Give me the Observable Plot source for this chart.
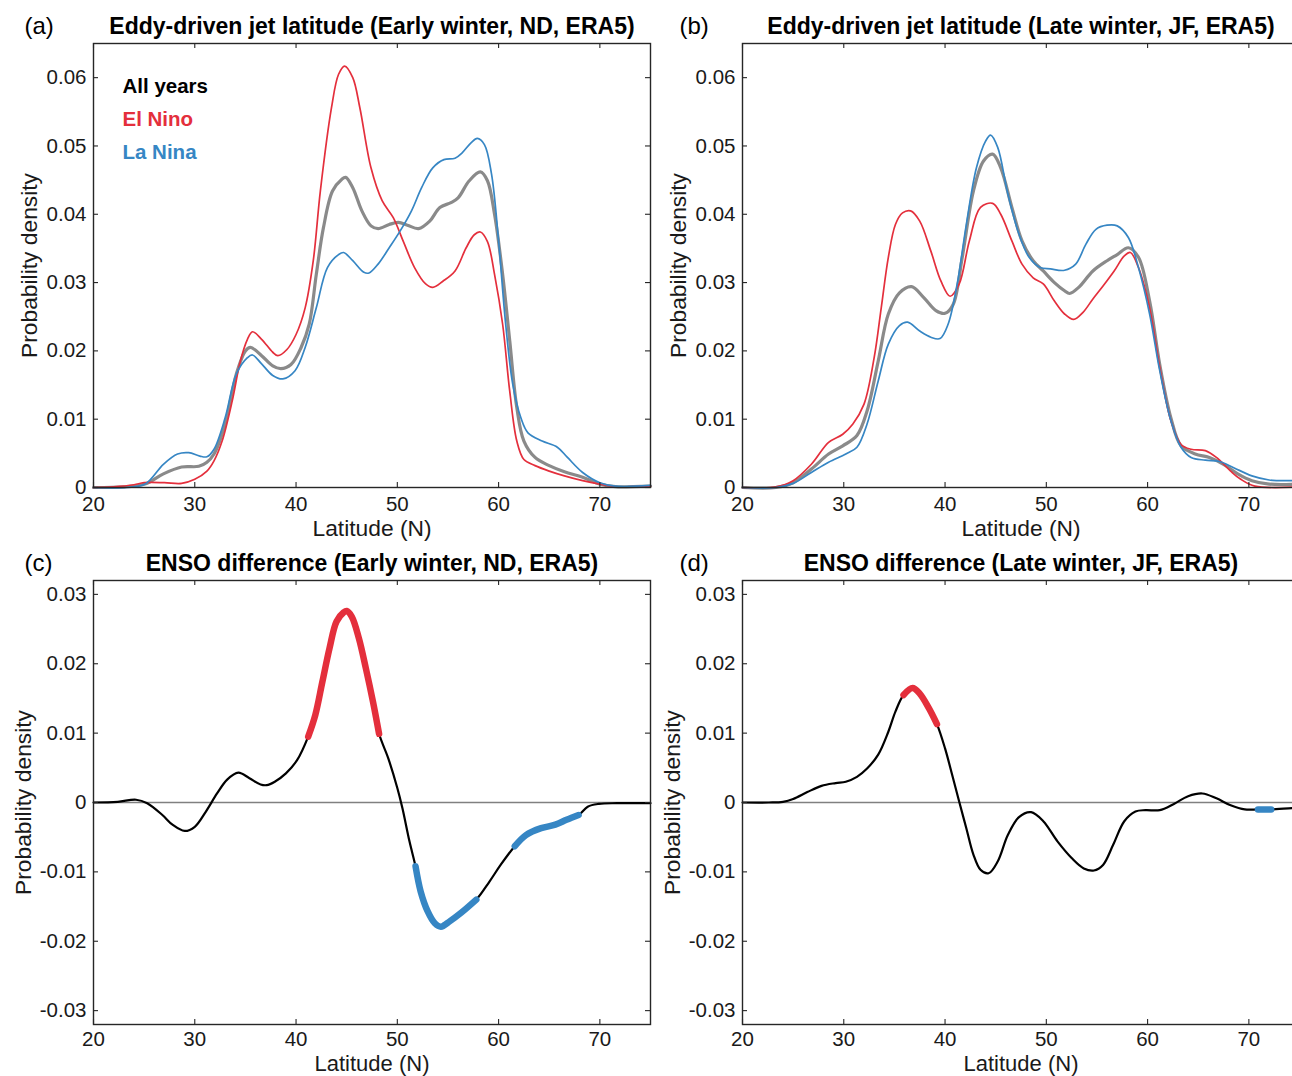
<!DOCTYPE html>
<html><head><meta charset="utf-8">
<script src="https://cdn.jsdelivr.net/npm/d3@7"></script>
<script src="https://cdn.jsdelivr.net/npm/@observablehq/plot@0.6"></script>
<style>
html,body{margin:0;padding:0;background:#fff;overflow:hidden;width:1292px;height:1076px;}
#fig{position:relative;width:1292px;height:1076px;overflow:hidden;background:#fff;}
.panel{position:absolute;}
</style></head><body><div id="fig"></div>
<script>
// ---------------- DATA ----------------
const xTicks = [20, 30, 40, 50, 60, 70];
const yTicksPdf = [0, 0.01, 0.02, 0.03, 0.04, 0.05, 0.06];
const yTicksDiff = [-0.03, -0.02, -0.01, 0, 0.01, 0.02, 0.03];
const xLabel = "Latitude (N)";
const yLabel = "Probability density";
const titles = [
  "Eddy-driven jet latitude (Early winter, ND, ERA5)",
  "Eddy-driven jet latitude (Late winter, JF, ERA5)",
  "ENSO difference (Early winter, ND, ERA5)",
  "ENSO difference (Late winter, JF, ERA5)"
];
const letters = ["(a)", "(b)", "(c)", "(d)"];
const legendLabels = ["All years", "El Nino", "La Nina"];

// Panel (a): early winter ND  [latitude, density]
const ndAll = [[20,0],[23,0.0001],[25.1,0.0005],[26.9,0.002],[28.7,0.003],[30.4,0.0031],[31.2,0.0037],[31.9,0.0049],[33.0,0.0093],[34.1,0.0166],[35.0,0.020],[35.5,0.0205],[36.6,0.0193],[37.7,0.0178],[38.5,0.0174],[39.5,0.018],[40.5,0.0205],[41.3,0.0239],[42.0,0.0312],[42.7,0.038],[43.6,0.0434],[44.5,0.0451],[44.9,0.0454],[45.6,0.0439],[46.5,0.0405],[47.4,0.0383],[48.1,0.0379],[49.2,0.0385],[50.1,0.0388],[51.0,0.0384],[52.1,0.0379],[53.2,0.039],[54.2,0.041],[55.3,0.0417],[56.0,0.0424],[57.1,0.0449],[58.2,0.0462],[58.9,0.0449],[59.6,0.040],[60.4,0.0312],[61.1,0.0215],[61.8,0.0117],[62.5,0.0068],[63.6,0.0044],[65,0.0032],[66.5,0.0023],[68.3,0.0015],[70,0.0005],[71.8,0.0001],[75,0.0002]];
const ndNino = [[20,0],[22,0.0001],[24,0.0004],[25,0.0007],[27,0.0007],[28.7,0.0006],[30,0.0012],[31.2,0.0024],[31.9,0.0039],[32.7,0.0068],[33.7,0.0127],[34.5,0.0185],[35.2,0.0217],[35.7,0.0228],[36.6,0.0217],[37.7,0.0198],[38.2,0.0193],[39.1,0.0202],[40.0,0.0224],[40.9,0.0263],[41.7,0.0332],[42.4,0.0434],[43.5,0.0556],[44.2,0.0605],[44.8,0.0617],[45.6,0.060],[46.3,0.0556],[47.4,0.0468],[48.5,0.042],[49.6,0.0395],[50.6,0.036],[51.7,0.0322],[52.8,0.0298],[53.5,0.0293],[54.5,0.0302],[55.7,0.0317],[56.8,0.0351],[57.6,0.037],[58.2,0.0374],[58.9,0.036],[59.6,0.0312],[60.4,0.0239],[61.1,0.0141],[61.8,0.0068],[62.5,0.0041],[63.6,0.0032],[65,0.0024],[66.5,0.0017],[68.3,0.001],[70,0.0005],[71.8,0.0001],[75,0.0002]];
const ndNina = [[20,0],[23.3,0],[25.1,0.0005],[26.9,0.0034],[28.3,0.0049],[29.4,0.0051],[30.5,0.0046],[31.2,0.0045],[31.9,0.0056],[33.0,0.0102],[34.1,0.0166],[35.2,0.019],[35.7,0.0194],[36.6,0.0181],[37.7,0.0164],[38.7,0.0159],[39.9,0.0171],[40.9,0.0205],[42.0,0.0263],[43.1,0.0322],[44.2,0.0341],[44.7,0.0344],[45.6,0.0332],[46.7,0.0315],[47.2,0.0314],[48.1,0.0327],[49.2,0.0351],[50.3,0.0376],[51.4,0.0405],[52.4,0.0439],[53.5,0.0468],[54.6,0.048],[55.7,0.0482],[56.4,0.049],[57.3,0.0505],[57.9,0.0511],[58.6,0.0502],[59.3,0.0459],[60.0,0.0361],[60.7,0.0239],[61.4,0.0151],[62.2,0.0102],[62.9,0.008],[64.3,0.0068],[65.8,0.0059],[66.8,0.0044],[68.3,0.0022],[70,0.0007],[71.5,0.0002],[75,0.0003]];

// Panel (b): late winter JF
const jfAll = [[20,0],[23.3,0],[25,0.0007],[26.8,0.0027],[28.5,0.0049],[29.9,0.0061],[31.3,0.0076],[32.3,0.0112],[33.4,0.0185],[34.4,0.0254],[35.5,0.0285],[36.7,0.0294],[37.9,0.0278],[39.1,0.0259],[40.0,0.0255],[40.8,0.0268],[41.7,0.0337],[42.8,0.0434],[43.8,0.0478],[44.7,0.0488],[45.5,0.0468],[46.6,0.041],[47.6,0.0361],[48.7,0.0332],[49.7,0.0317],[50.8,0.030],[51.8,0.0288],[52.3,0.0284],[53.2,0.0293],[54.6,0.0317],[56.0,0.0332],[57.0,0.0341],[58.1,0.0351],[59.1,0.0337],[60.2,0.0273],[61.2,0.018],[62.3,0.0102],[63.3,0.0061],[64.7,0.0049],[66.1,0.0044],[67.5,0.0034],[68.9,0.002],[70.3,0.001],[72,0.0005],[75,0.0005]];
const jfNino = [[20,0],[23.3,0.0001],[25,0.001],[26.8,0.0034],[28.5,0.0066],[29.9,0.0078],[30.9,0.0093],[32.0,0.0122],[33.0,0.019],[33.7,0.0263],[34.4,0.0337],[35.1,0.0385],[35.8,0.0402],[36.6,0.0405],[37.5,0.039],[38.6,0.0346],[39.6,0.0302],[40.5,0.028],[41.4,0.0298],[42.4,0.0361],[43.5,0.041],[44.7,0.0416],[45.5,0.040],[46.6,0.0361],[47.6,0.0327],[48.7,0.0307],[49.7,0.0298],[50.8,0.0273],[51.8,0.0254],[52.7,0.0246],[53.6,0.0256],[54.6,0.0276],[55.6,0.0295],[56.7,0.0317],[57.7,0.0339],[58.3,0.0344],[59.1,0.0322],[60.2,0.0263],[61.2,0.0176],[62.3,0.0098],[63.3,0.0063],[64.3,0.0056],[65.7,0.0054],[66.8,0.0044],[68.2,0.0024],[69.2,0.0012],[70.6,0.0002],[75,0.0001]];
const jfNina = [[20,0],[23.3,0],[25,0.0006],[26.8,0.0022],[28.5,0.0037],[30.2,0.0049],[31.3,0.0059],[32.3,0.0093],[33.4,0.0156],[34.4,0.021],[35.5,0.0237],[36.3,0.0242],[37.5,0.0229],[38.6,0.022],[39.5,0.0218],[40.3,0.0239],[41.2,0.0298],[42.1,0.0385],[43.1,0.0468],[44.0,0.0507],[44.5,0.0516],[45.2,0.0498],[46.2,0.043],[47.3,0.0371],[48.3,0.0337],[49.4,0.0322],[50.4,0.032],[51.8,0.0318],[52.9,0.0327],[53.9,0.0356],[54.9,0.0378],[56.0,0.0384],[57.0,0.0383],[58.1,0.0366],[59.1,0.0322],[60.2,0.0254],[61.2,0.0171],[62.3,0.0098],[63.3,0.0059],[64.3,0.0044],[65.7,0.004],[67.1,0.0038],[68.5,0.0029],[70.3,0.0017],[72,0.0011],[74.1,0.001],[75,0.001]];

// Panels (c),(d): El Nino minus La Nina difference
const ndDiff = [[20,0],[22.4,0.0001],[24.2,0.0004],[25.3,-0.0001],[26.8,-0.0018],[27.8,-0.0032],[29.0,-0.0041],[30,-0.0035],[31.1,-0.0013],[32.2,0.0013],[33.2,0.0033],[34.3,0.0043],[35.4,0.0035],[36.5,0.0026],[37.1,0.0025],[37.9,0.003],[39.0,0.0042],[40.1,0.0061],[41.2,0.0095],[41.9,0.0126],[42.6,0.0174],[43.3,0.0222],[44.0,0.0261],[44.7,0.0274],[45.0,0.0276],[45.5,0.0268],[46.2,0.0237],[46.9,0.0193],[47.6,0.0145],[48.2,0.0099],[49.1,0.0064],[50.0,0.0021],[50.5,-0.0008],[51.2,-0.0056],[51.8,-0.0092],[52.3,-0.0128],[53.0,-0.0157],[53.7,-0.0174],[54.3,-0.0179],[55.2,-0.0171],[56.3,-0.0159],[57.8,-0.014],[59.1,-0.0114],[60.2,-0.009],[61.6,-0.0063],[62.7,-0.0047],[64.2,-0.0037],[65.6,-0.0032],[66.7,-0.0025],[67.9,-0.0018],[68.8,-0.0006],[69.9,-0.0002],[71.7,-0.0001],[75,-0.0001]];
const jfDiff = [[20,0],[22.6,0],[24.0,0.0001],[25.0,0.0005],[26.4,0.0015],[27.8,0.0024],[29.2,0.0028],[30.2,0.003],[31.3,0.0037],[32.3,0.0049],[33.4,0.0069],[34.4,0.0102],[35.1,0.0131],[35.9,0.0155],[36.8,0.0165],[37.5,0.0157],[38.4,0.0136],[39.2,0.0113],[40.0,0.0078],[40.7,0.004],[41.4,0.0001],[42.1,-0.0037],[42.8,-0.0075],[43.5,-0.0097],[44.3,-0.0102],[45.2,-0.0085],[46.2,-0.0047],[47.3,-0.0021],[48.5,-0.0014],[49.7,-0.0027],[51.1,-0.0056],[52.5,-0.008],[53.7,-0.0095],[54.7,-0.0098],[55.6,-0.009],[56.6,-0.0061],[57.7,-0.0027],[58.8,-0.0013],[59.8,-0.0011],[61.2,-0.0011],[62.6,-0.0002],[64.0,0.0009],[65.4,0.0013],[66.8,0.0006],[68.2,-0.0004],[69.6,-0.001],[70.9,-0.001],[72.2,-0.001],[74.4,-0.0008],[75,-0.0008]];

// Latitude ranges where the difference is significant
const ndSigNino = [[41.2, 48.2]];
const ndSigNina = [[51.8, 57.8], [61.6, 67.9]];
const jfSigNino = [[35.9, 39.2]];
const jfSigNina = [[70.9, 72.2]];

// ---------------- STYLE ----------------
const FONT = '"Liberation Sans", Arial, Helvetica, sans-serif';
const AX = "#262626";
const RED = "#e42f3c";
const BLUE = "#3686c4";
const GRAY = "#8a8a8a";
const W = 660, H = 545, ML = 93, MT = 43, MR = 10, MB = 58;
const FW = W - ML - MR, FH = H - MT - MB;
const C = {curve: "catmull-rom", x: d => d[0], y: d => d[1]};

function panel({letter, letterDx, ylabDx, xlabDy, xlabSize, xPad, title, yDomain, yTicks, lines, sig, legend, zero}) {
  const marks = [];
  if (zero) marks.push(Plot.ruleY([0], {stroke: "#808080", strokeWidth: 1.3}));
  for (const L of lines) marks.push(Plot.line(L.data, {...C, stroke: L.stroke, strokeWidth: L.width}));
  if (sig) for (const s of sig) for (const [a, b] of s.ranges)
    marks.push(Plot.line(s.data.filter(d => d[0] >= a - 1e-9 && d[0] <= b + 1e-9),
      {...C, stroke: s.stroke, strokeWidth: 6.5, strokeLinecap: "round", strokeLinejoin: "round"}));
  // inward ticks on all four sides
  marks.push(Plot.tickY(yTicks, {y: d => d, stroke: AX, strokeWidth: 1.1, insetRight: FW - 5}));
  marks.push(Plot.tickY(yTicks, {y: d => d, stroke: AX, strokeWidth: 1.1, insetLeft: FW - 5}));
  marks.push(Plot.tickX(xTicks, {x: d => d, stroke: AX, strokeWidth: 1.1, insetTop: FH - 5}));
  marks.push(Plot.tickX(xTicks, {x: d => d, stroke: AX, strokeWidth: 1.1, insetBottom: FH - 5}));
  marks.push(Plot.axisX({ticks: xTicks, tickSize: 0, tickPadding: xPad, label: null, tickFormat: d => String(d), fill: "#1a1a1a"}));
  marks.push(Plot.axisY({ticks: yTicks, tickSize: 0, tickPadding: 7, label: null, fill: "#1a1a1a",
    tickFormat: d => (Math.abs(d) < 1e-12 ? "0" : d.toFixed(2))}));
  marks.push(Plot.frame({stroke: AX, strokeWidth: 1.4}));
  marks.push(Plot.text([title], {text: d => d, frameAnchor: "top", textAnchor: "middle", lineAnchor: "bottom", dy: -10, fontWeight: "bold", fontSize: 23, fill: "#000"}));
  marks.push(Plot.text([letter], {text: d => d, frameAnchor: "top-left", textAnchor: "start", lineAnchor: "bottom", dx: letterDx, dy: -10, fontSize: 24, fill: "#000"}));
  marks.push(Plot.text([xLabel], {text: d => d, frameAnchor: "bottom", textAnchor: "middle", lineAnchor: "top", dy: xlabDy, fontSize: xlabSize, fill: "#1a1a1a"}));
  marks.push(Plot.text([yLabel], {text: d => d, frameAnchor: "left", textAnchor: "middle", rotate: -90, lineAnchor: "bottom", dx: ylabDx, fontSize: 22.8, fill: "#1a1a1a"}));
  if (legend) legend.forEach((g, i) => marks.push(Plot.text([g.label], {text: d => d, frameAnchor: "top-left", textAnchor: "start", lineAnchor: "middle", dx: 29, dy: 43 + 33 * i, fontWeight: "bold", fontSize: 20.5, fill: g.color})));
  return Plot.plot({
    width: W, height: H, marginLeft: ML, marginRight: MR, marginTop: MT, marginBottom: MB,
    x: {domain: [20, 75]}, y: {domain: yDomain},
    style: {fontFamily: FONT, fontSize: "20.5px", background: "transparent", overflow: "visible"},
    marks
  });
}

const fig = document.getElementById("fig");
function place(el, left, top) { el.classList.add("panel"); el.style.left = left + "px"; el.style.top = top + "px"; fig.appendChild(el); }

place(panel({letter: letters[0], letterDx: -69, ylabDx: -57, xlabDy: 32, xlabSize: 22.8, xPad: 9, title: titles[0], yDomain: [0, 0.065], yTicks: yTicksPdf,
  lines: [{data: ndAll, stroke: GRAY, width: 3.2}, {data: ndNino, stroke: RED, width: 1.7}, {data: ndNina, stroke: BLUE, width: 1.7}],
  legend: [{label: legendLabels[0], color: "#000"}, {label: legendLabels[1], color: RED}, {label: legendLabels[2], color: BLUE}]}), 0, 0);
place(panel({letter: letters[1], letterDx: -63, ylabDx: -57, xlabDy: 32, xlabSize: 22.8, xPad: 9, title: titles[1], yDomain: [0, 0.065], yTicks: yTicksPdf,
  lines: [{data: jfAll, stroke: GRAY, width: 3.2}, {data: jfNino, stroke: RED, width: 1.7}, {data: jfNina, stroke: BLUE, width: 1.7}]}), 649, 0);
place(panel({letter: letters[2], letterDx: -69, ylabDx: -63, xlabDy: 31, xlabSize: 22, xPad: 7, title: titles[2], yDomain: [-0.032, 0.032], yTicks: yTicksDiff, zero: true,
  lines: [{data: ndDiff, stroke: "#000", width: 2.2}],
  sig: [{data: ndDiff, ranges: ndSigNino, stroke: RED}, {data: ndDiff, ranges: ndSigNina, stroke: BLUE}]}), 0, 537);
place(panel({letter: letters[3], letterDx: -63, ylabDx: -63, xlabDy: 31, xlabSize: 22, xPad: 7, title: titles[3], yDomain: [-0.032, 0.032], yTicks: yTicksDiff, zero: true,
  lines: [{data: jfDiff, stroke: "#000", width: 2.2}],
  sig: [{data: jfDiff, ranges: jfSigNino, stroke: RED}, {data: jfDiff, ranges: jfSigNina, stroke: BLUE}]}), 649, 537);
</script>
</body></html>
